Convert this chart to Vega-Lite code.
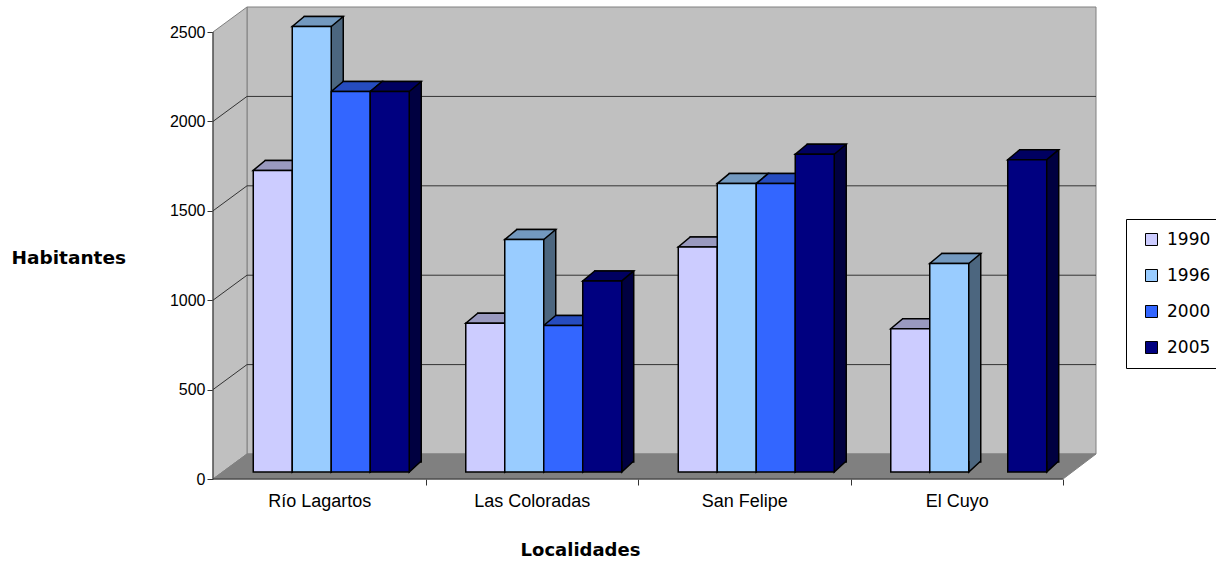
{
  "$schema": "https://vega.github.io/schema/vega-lite/v6.json",
  "width": 883,
  "height": 472,
  "autosize": {"type": "none"},
  "padding": {"left": 213, "top": 7, "right": 120, "bottom": 86},
  "background": "white",
  "config": {"view": {"stroke": null}, "font": "DejaVu Sans"},
  "datasets": {
    "pop": [
      {"loc": "Río Lagartos", "year": "1990", "v": 1687},
      {"loc": "Río Lagartos", "year": "1996", "v": 2492},
      {"loc": "Río Lagartos", "year": "2000", "v": 2128},
      {"loc": "Río Lagartos", "year": "2005", "v": 2128},
      {"loc": "Las Coloradas", "year": "1990", "v": 832},
      {"loc": "Las Coloradas", "year": "1996", "v": 1300},
      {"loc": "Las Coloradas", "year": "2000", "v": 820},
      {"loc": "Las Coloradas", "year": "2005", "v": 1069},
      {"loc": "San Felipe", "year": "1990", "v": 1259},
      {"loc": "San Felipe", "year": "1996", "v": 1613},
      {"loc": "San Felipe", "year": "2000", "v": 1613},
      {"loc": "San Felipe", "year": "2005", "v": 1777},
      {"loc": "El Cuyo", "year": "1990", "v": 801},
      {"loc": "El Cuyo", "year": "1996", "v": 1166},
      {"loc": "El Cuyo", "year": "2005", "v": 1747}
    ],
    "grid": [{"v": 500}, {"v": 1000}, {"v": 1500}, {"v": 2000}],
    "one": [{}]
  },
  "resolve": {"scale": {"x": "independent", "xOffset": "independent", "fill": "independent"}},
  "layer": [
    {
      "data": {"name": "one"},
      "mark": {"type": "rect", "fill": "#C0C0C0", "stroke": "#808080", "strokeWidth": 1},
      "encoding": {
        "x": {"datum": 0.16, "type": "quantitative", "scale": {"domain": [0, 4.156], "nice": false, "zero": false}, "axis": null},
        "x2": {"datum": 4.156},
        "y": {"datum": 140, "type": "quantitative", "scale": {"domain": [0, 2640], "nice": false}, "title": "Habitantes",
          "axis": {"values": [0, 500, 1000, 1500, 2000, 2500], "format": "d", "domain": false, "grid": false, "tickSize": 6, "tickColor": "#333333",
            "labelFont": "Liberation Sans", "labelFontSize": 16, "labelColor": "black", "labelPadding": 2,
            "title": "Habitantes", "titleFont": "DejaVu Sans", "titleFontSize": 18.5, "titleFontWeight": "bold", "titleColor": "black",
            "titleAngle": 0, "titleAlign": "left", "titleBaseline": "middle", "titleX": -202, "titleY": 250}},
        "y2": {"datum": 2640}
      }
    },
    {
      "data": {"name": "one"},
      "mark": {"type": "point", "shape": "M0 0 L34 -25 L34 -472 L0 -447 Z", "size": 4, "filled": true, "fill": "#C0C0C0", "stroke": "#808080", "strokeWidth": 1, "opacity": 1},
      "encoding": {
        "x": {"datum": 0, "type": "quantitative", "scale": {"domain": [0, 4.156], "nice": false, "zero": false}, "axis": null},
        "y": {"datum": 0, "type": "quantitative", "scale": {"domain": [0, 2640], "nice": false}, "title": "Habitantes"}
      }
    },
    {
      "data": {"name": "one"},
      "mark": {"type": "point", "shape": "M0 0 L34 -25 L883 -25 L850 0 Z", "size": 4, "filled": true, "fill": "#808080", "stroke": "#808080", "strokeWidth": 1, "opacity": 1},
      "encoding": {
        "x": {"datum": 0, "type": "quantitative", "scale": {"domain": [0, 4.156], "nice": false, "zero": false}, "axis": null},
        "y": {"datum": 0, "type": "quantitative", "scale": {"domain": [0, 2640], "nice": false}, "title": "Habitantes"}
      }
    },
    {
      "data": {"name": "grid"},
      "mark": {"type": "rule", "color": "#333333", "strokeWidth": 1, "yOffset": -25},
      "encoding": {
        "x": {"datum": 0.16, "type": "quantitative", "scale": {"domain": [0, 4.156], "nice": false, "zero": false}, "axis": null},
        "x2": {"datum": 4.156},
        "y": {"field": "v", "type": "quantitative", "scale": {"domain": [0, 2640], "nice": false}, "title": "Habitantes"}
      }
    },
    {
      "data": {"name": "grid"},
      "mark": {"type": "rule", "color": "#333333", "strokeWidth": 1, "y2Offset": -25},
      "encoding": {
        "x": {"datum": 0, "type": "quantitative", "scale": {"domain": [0, 4.156], "nice": false, "zero": false}, "axis": null},
        "x2": {"datum": 0.16},
        "y": {"field": "v", "type": "quantitative", "scale": {"domain": [0, 2640], "nice": false}, "title": "Habitantes"},
        "y2": {"field": "v"}
      }
    },
    {
      "data": {"name": "one"},
      "mark": {"type": "rule", "color": "#333333", "strokeWidth": 1},
      "encoding": {
        "x": {"datum": 0, "type": "quantitative", "scale": {"domain": [0, 4.156], "nice": false, "zero": false}, "axis": null},
        "y": {"datum": 0, "type": "quantitative", "scale": {"domain": [0, 2640], "nice": false}, "title": "Habitantes"},
        "y2": {"datum": 2500}
      }
    },
    {
      "data": {"name": "one"},
      "mark": {"type": "rule", "color": "#333333", "strokeWidth": 1},
      "encoding": {
        "x": {"datum": 0, "type": "quantitative", "scale": {"domain": [0, 4.156], "nice": false, "zero": false}, "axis": null},
        "x2": {"datum": 4},
        "y": {"datum": 0, "type": "quantitative", "scale": {"domain": [0, 2640], "nice": false}, "title": "Habitantes"}
      }
    },
    {
      "data": {"name": "pop"},
      "mark": {"type": "bar", "stroke": "black", "strokeWidth": 1.5, "yOffset": -17, "y2Offset": -17},
      "encoding": {
        "x": {"field": "loc", "type": "nominal", "sort": null, "scale": {"range": [24, 874], "paddingInner": 0.266, "paddingOuter": 0.133}, "axis": null},
        "xOffset": {"field": "year", "type": "nominal", "scale": {"domain": ["1990", "1996", "2000", "2005"]}},
        "y": {"field": "v", "type": "quantitative", "scale": {"domain": [0, 2640], "nice": false}, "title": "Habitantes"},
        "y2": {"datum": 0},
        "fill": {"field": "year", "type": "nominal", "scale": {"domain": ["1990", "1996", "2000", "2005"], "range": ["#666680", "#4C667F", "#193380", "#000040"]}, "legend": null}
      }
    },
    {
      "data": {"name": "pop"},
      "mark": {"type": "point", "shape": "M19.5 -11 L19.5 0 L31.5 -11", "size": 4, "filled": true, "stroke": "black", "strokeWidth": 1.5, "opacity": 1, "yOffset": -7},
      "encoding": {
        "x": {"field": "loc", "type": "nominal", "sort": null, "scale": {"range": [12, 862], "paddingInner": 0.266, "paddingOuter": 0.133}, "axis": null},
        "xOffset": {"field": "year", "type": "nominal", "scale": {"domain": ["1990", "1996", "2000", "2005"]}},
        "y": {"datum": 0, "type": "quantitative", "scale": {"domain": [0, 2640], "nice": false}, "title": "Habitantes"},
        "fill": {"field": "year", "type": "nominal", "scale": {"domain": ["1990", "1996", "2000", "2005"], "range": ["#666680", "#4C667F", "#193380", "#000040"]}, "legend": null}
      }
    },
    {
      "data": {"name": "pop"},
      "mark": {"type": "point", "shape": "M-19.5 0 L19.5 0 L31.5 -10 L-7.5 -10 Z", "size": 4, "filled": true, "stroke": "black", "strokeWidth": 1.5, "opacity": 1, "yOffset": -7},
      "encoding": {
        "x": {"field": "loc", "type": "nominal", "sort": null, "scale": {"range": [12, 862], "paddingInner": 0.266, "paddingOuter": 0.133}, "axis": null},
        "xOffset": {"field": "year", "type": "nominal", "scale": {"domain": ["1990", "1996", "2000", "2005"]}},
        "y": {"field": "v", "type": "quantitative", "scale": {"domain": [0, 2640], "nice": false}, "title": "Habitantes"},
        "fill": {"field": "year", "type": "nominal", "scale": {"domain": ["1990", "1996", "2000", "2005"], "range": ["#9999BF", "#7399BF", "#264CBF", "#000060"]}, "legend": null}
      }
    },
    {
      "data": {"name": "pop"},
      "mark": {"type": "bar", "stroke": "black", "strokeWidth": 1.5, "yOffset": -7, "y2Offset": -7},
      "encoding": {
        "x": {"field": "loc", "type": "nominal", "sort": null, "scale": {"range": [12, 862], "paddingInner": 0.266, "paddingOuter": 0.133},
          "axis": {"title": "Localidades", "domain": false, "grid": false, "tickSize": 6, "tickColor": "#333333", "tickOffset": 94.25, "labelOffset": -106.25,
            "labelFont": "Liberation Sans", "labelFontSize": 18, "labelColor": "black", "labelPadding": 7, "labelAngle": 0,
            "titleFont": "DejaVu Sans", "titleFontSize": 18, "titleFontWeight": "bold", "titleColor": "black",
            "titleX": 367, "titleY": 71, "titleBaseline": "middle", "titleAlign": "center"}},
        "xOffset": {"field": "year", "type": "nominal", "scale": {"domain": ["1990", "1996", "2000", "2005"]}},
        "y": {"field": "v", "type": "quantitative", "scale": {"domain": [0, 2640], "nice": false}, "title": "Habitantes"},
        "y2": {"datum": 0},
        "fill": {"field": "year", "type": "nominal", "scale": {"domain": ["1990", "1996", "2000", "2005"], "range": ["#CCCCFF", "#99CCFF", "#3366FF", "#000080"]},
          "legend": {"title": null, "orient": "none", "legendX": 913, "legendY": 212, "fillColor": "white", "strokeColor": "black", "padding": 12,
            "symbolType": "square", "symbolSize": 144, "symbolStrokeColor": "black", "symbolStrokeWidth": 1, "symbolOffset": 5,
            "labelFont": "DejaVu Sans", "labelFontSize": 17, "labelColor": "black", "labelOffset": 7, "rowPadding": 18}}
      }
    }
  ]
}
